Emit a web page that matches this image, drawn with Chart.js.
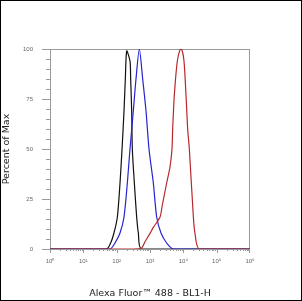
<!DOCTYPE html>
<html>
<head>
<meta charset="utf-8">
<script src="https://cdn.jsdelivr.net/npm/chart.js@4"></script>
<style>
  html, body { margin: 0; padding: 0; background: #fff; }
  #wrap { width: 302px; height: 301px; }
</style>
</head>
<body>
<div id="wrap"><canvas id="myChart" width="302" height="301"></canvas></div>
<script>
// fluorescence intensity (x) and percent of max (y)
const blackX = [1, 50, 66, 83, 105, 126, 145, 166, 182, 200, 251, 263, 282, 295, 339, 398, 447, 562, 1000000];
const blackY = [0, 0, 3, 8, 16, 33, 50, 69, 85, 99, 94, 85, 69, 50, 33, 16, 8, 0, 0];

const blueX = [1, 63, 89, 126, 166, 209, 251, 316, 380, 479, 603, 759, 933, 1259, 1585, 2138, 3162, 5012, 1000000];
const blueY = [0, 0, 3, 8, 16, 33, 50, 69, 85, 100, 85, 69, 50, 33, 16, 8, 3, 0, 0];

const redX = [1, 300, 562, 708, 1000, 1259, 2000, 2344, 2512, 3162, 3981, 4571, 4786, 5370, 6607, 8128, 9120,
              10471, 12023, 13490, 15136, 20000, 22387, 30200, 1000000];
const redY = [0, 0, 0.5, 3.6, 7.8, 10.8, 16, 22, 24.5, 33, 41, 50, 60, 77, 94, 100, 99.5,
              94, 77, 60, 50, 16, 7.8, 0, 0];

const xTicks = [1, 10, 100, 1000, 10000, 100000, 1000000];
const xTickLabels = ['10⁰', '10¹', '10²', '10³', '10⁴', '10⁵', '10⁶'];
const yTicks = [0, 25, 50, 75, 100];

function toPoints(xs, ys) {
  return xs.map((x, i) => ({ x: x, y: ys[i] }));
}

// gray plot frame, tick marks and the outer black border
const framePlugin = {
  id: 'frame',
  beforeDatasetsDraw(chart) {
    const { ctx, chartArea: a, scales } = chart;
    ctx.save();
    ctx.strokeStyle = '#9a9a9a';
    ctx.lineWidth = 1;
    ctx.strokeRect(a.left + 0.5, a.top + 0.5, a.right - a.left - 1, a.bottom - a.top);

    ctx.beginPath();
    // y ticks every 5, long ones every 25
    for (let v = 0; v <= 100; v += 5) {
      const y = Math.round(scales.y.getPixelForValue(v)) + 0.5;
      const len = v % 25 === 0 ? 8 : 4;
      ctx.moveTo(a.left - len, y);
      ctx.lineTo(a.left, y);
    }
    // x log ticks
    for (let d = 1; d < 1000000; d *= 10) {
      for (let m = 1; m < 10; m++) {
        const x = Math.round(scales.x.getPixelForValue(d * m)) + 0.5;
        const len = m === 1 ? 4 : 2;
        ctx.moveTo(x, a.bottom);
        ctx.lineTo(x, a.bottom + len);
      }
    }
    const xe = Math.round(scales.x.getPixelForValue(1000000)) - 0.5;
    ctx.moveTo(xe, a.bottom);
    ctx.lineTo(xe, a.bottom + 4);
    ctx.stroke();
    ctx.restore();
  },
  afterDraw(chart) {
    const { ctx, width, height } = chart;
    ctx.save();
    ctx.strokeStyle = '#000';
    ctx.lineWidth = 1;
    ctx.strokeRect(0.5, 0.5, width - 1, height - 1);
    ctx.restore();
  }
};

document.addEventListener('DOMContentLoaded', function() {
  const data = {
    datasets: [{
      label: 'Stained',
      data: toPoints(redX, redY),
      borderColor: '#b8282a',
    }, {
      label: 'Isotype',
      data: toPoints(blueX, blueY),
      borderColor: '#2424d2',
    }, {
      label: 'Unstained',
      data: toPoints(blackX, blackY),
      borderColor: '#111111',
    }]
  };

  const config = {
    type: 'scatter',
    data: data,
    options: {
      responsive: false,
      animation: false,
      layout: { padding: { left: 0, top: 49, right: 52, bottom: 0 } },
      elements: {
        point: { radius: 0 },
        line: { borderWidth: 1.2, tension: 0.25 }
      },
      datasets: { scatter: { showLine: true } },
      plugins: {
        legend: { display: false },
        tooltip: { enabled: false }
      },
      scales: {
        x: {
          type: 'logarithmic',
          min: 1,
          max: 1000000,
          grid: { display: false },
          border: { display: false },
          afterFit: function(scale) { scale.height = 52; },
          afterBuildTicks: function(scale) {
            scale.ticks = xTicks.map(v => ({ value: v }));
          },
          ticks: {
            autoSkip: false,
            maxRotation: 0,
            padding: 1,
            color: '#666',
            font: { family: 'Liberation Sans', size: 6 },
            callback: function(value) {
              const i = xTicks.indexOf(value);
              return i >= 0 ? xTickLabels[i] : '';
            }
          },
          title: {
            display: true,
            text: 'Alexa Fluor™ 488 - BL1-H',
            color: '#222',
            font: { family: 'DejaVu Sans', size: 9.5 },
            padding: { top: 0, bottom: 2 }
          }
        },
        y: {
          min: 0,
          max: 100,
          grid: { display: false },
          border: { display: false },
          afterFit: function(scale) { scale.width = 50; },
          afterBuildTicks: function(scale) {
            scale.ticks = yTicks.map(v => ({ value: v }));
          },
          ticks: {
            padding: 9,
            color: '#666',
            font: { family: 'Liberation Sans', size: 6 }
          },
          title: {
            display: true,
            text: 'Percent of Max',
            color: '#222',
            font: { family: 'DejaVu Sans', size: 9.5 },
            padding: { top: 1, bottom: 0 }
          }
        }
      }
    },
    plugins: [framePlugin]
  };

  var myChart = new Chart(document.getElementById('myChart'), config);
});
</script>
</body>
</html>
